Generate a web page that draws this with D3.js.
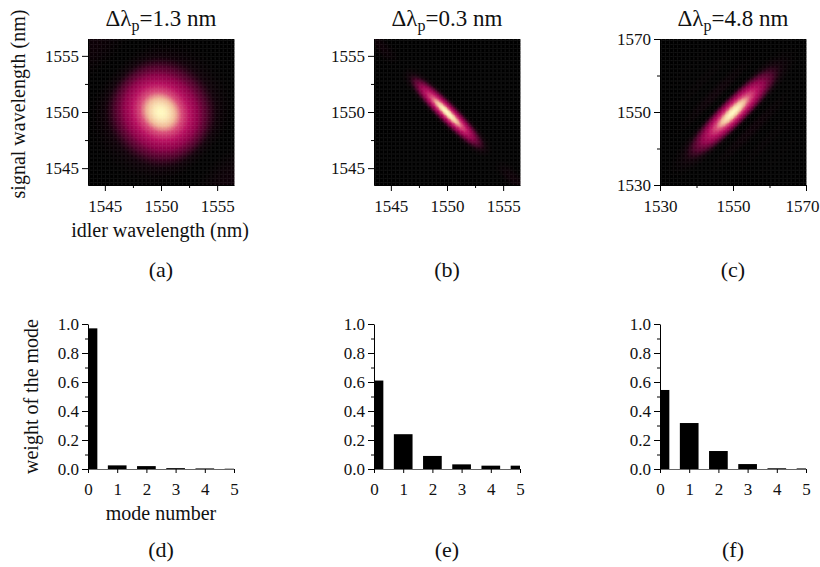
<!DOCTYPE html>
<html>
<head>
<meta charset="UTF-8" />
<title>JSA and Schmidt modes</title>
<script src="https://cdn.jsdelivr.net/npm/d3@7"></script>
<style>
    body { margin: 0; background: #fff; }
    svg { display: block; font-family: 'Liberation Serif', 'DejaVu Serif', serif; }
    text { fill: #111; }
    .tick text { font-size: 17px; }
</style>
</head>
<body>
<div id="chart"></div>
<script>
    // ---- data ----
    var pumpBandwidths = ["1.3", "0.3", "4.8"];          // panel titles (nm)
    var jsaLetters = ["(a)", "(b)", "(c)"];
    var barLetters = ["(d)", "(e)", "(f)"];

    // joint spectrum shape: gaussian pump width along s+i, sinc phase matching along s-i (nm)
    var pumpWidth = [2.0, 0.4, 7.5];
    var matchWidth = [1.9, 1.85, 1.55];
    var jsaDomains = [[1543.5, 1556.5], [1543.5, 1556.5], [1530, 1570]];
    var jsaTicks = [[1545, 1550, 1555], [1545, 1550, 1555], [1530, 1550, 1570]];
    var jsaMinorTicks = [[1547.5, 1552.5], [1547.5, 1552.5], [1540, 1560]];
    var centreWavelength = 1550;

    var modeNumbers = [0, 1, 2, 3, 4, 5];
    var weightsD = [0.97, 0.025, 0.02, 0.006, 0.004, 0.002];
    var weightsE = [0.61, 0.24, 0.09, 0.032, 0.023, 0.023];
    var weightsF = [0.545, 0.317, 0.124, 0.034, 0.005, 0.004];
    var weightTicks = [0, 0.2, 0.4, 0.6, 0.8, 1.0];
    var weightMinorTicks = [0.1, 0.3, 0.5, 0.7, 0.9];

    var colorStops = [0, 0.06, 0.15, 0.3, 0.5, 0.7, 0.85, 1];
    var colorValues = ["#000000", "#12000a", "#4c0029", "#8c0048", "#b81060", "#d84c78", "#f0b898", "#fff8c0"];

    var W = 820, H = 567;
    var panelLeft = [88, 374, 660];
    var size = 146;
    var jsaTop = 39;
    var barTop = 324, barH = 145;

    var svg = d3.select("#chart").append("svg")
        .attr("width", W)
        .attr("height", H);

    var color = d3.scaleLinear().domain(colorStops).range(colorValues).clamp(true);

    function sinc(x) { return x === 0 ? 1 : Math.sin(x) / x; }

    // drop d3's default axis font so the page font applies
    function plain(sel) { sel.attr("font-family", null).attr("font-size", null); }

    var N = 110;

    // ---- top row: joint spectral intensities ----
    jsaDomains.forEach(function(dom, p) {
        var g = svg.append("g").attr("transform", "translate(" + panelLeft[p] + "," + jsaTop + ")");
        var x = d3.scaleLinear().domain(dom).range([0, size]);
        var y = d3.scaleLinear().domain(dom).range([size, 0]);
        var step = (dom[1] - dom[0]) / N;

        var cells = [];
        for (var a = 0; a < N; a++) {
            for (var b = 0; b < N; b++) {
                var li = dom[0] + (a + 0.5) * step;
                var ls = dom[0] + (b + 0.5) * step;
                var u = (li + ls - 2 * centreWavelength) / Math.SQRT2;
                var v = (ls - li) / Math.SQRT2;
                var val = Math.exp(-u * u / (2 * pumpWidth[p] * pumpWidth[p])) *
                    Math.pow(sinc(v / matchWidth[p]), 2);
                cells.push({i: li, s: ls, v: val});
            }
        }

        g.append("g").selectAll("rect")
            .data(cells)
            .enter().append("rect")
            .attr("x", function(d) { return x(d.i - step / 2); })
            .attr("y", function(d) { return y(d.s + step / 2); })
            .attr("width", x(dom[0] + step) - x(dom[0]) + 0.4)
            .attr("height", y(dom[0]) - y(dom[0] + step) + 0.4)
            .attr("fill", function(d) { return color(d.v); });

        var xAxis = d3.axisBottom(x).tickValues(jsaTicks[p]).tickFormat(d3.format("d"))
            .tickSizeInner(6).tickSizeOuter(0).tickPadding(9);
        var yAxis = d3.axisLeft(y).tickValues(jsaTicks[p]).tickFormat(d3.format("d"))
            .tickSizeInner(6).tickSizeOuter(0).tickPadding(3);

        var xg = g.append("g").attr("transform", "translate(0," + size + ")").call(xAxis).call(plain);
        // keep the right-most label inside the page
        xg.selectAll(".tick text").filter(function(d) { return panelLeft[p] + x(d) + 17 > W; })
            .attr("x", -4);
        g.append("g").call(yAxis).call(plain);
        g.append("g").attr("transform", "translate(0," + size + ")")
            .call(d3.axisBottom(x).tickValues(jsaMinorTicks[p]).tickFormat("").tickSize(3).tickSizeOuter(0))
            .select(".domain").remove();
        g.append("g")
            .call(d3.axisLeft(y).tickValues(jsaMinorTicks[p]).tickFormat("").tickSize(3).tickSizeOuter(0))
            .select(".domain").remove();

        // title
        var t = g.append("text")
            .attr("x", size / 2)
            .attr("y", -13)
            .attr("text-anchor", "middle")
            .style("font-size", "23px");
        t.append("tspan").text("\u0394\u03bb");
        t.append("tspan").attr("dy", 5).style("font-size", "16px").text("p");
        t.append("tspan").attr("dy", -5).text("=" + pumpBandwidths[p] + " nm");

        g.append("text")
            .attr("x", size / 2)
            .attr("y", 277 - jsaTop)
            .attr("text-anchor", "middle")
            .style("font-size", "22px")
            .text(jsaLetters[p]);
    });

    svg.append("text")
        .attr("transform", "translate(25," + (jsaTop + size / 2 - 8) + ") rotate(-90)")
        .attr("text-anchor", "middle")
        .style("font-size", "20px")
        .text("signal wavelength (nm)");

    svg.append("text")
        .attr("x", panelLeft[0] + size / 2 - 1)
        .attr("y", 237)
        .attr("text-anchor", "middle")
        .style("font-size", "20px")
        .text("idler wavelength (nm)");

    // ---- bottom row: mode weights ----
    [weightsD, weightsE, weightsF].forEach(function(weights, p) {
        var g = svg.append("g").attr("transform", "translate(" + panelLeft[p] + "," + barTop + ")");
        var x = d3.scaleLinear().domain([0, 5]).range([0, size]);
        var y = d3.scaleLinear().domain([0, 1]).range([barH, 0]);
        var bw = 0.64;

        g.append("defs").append("clipPath").attr("id", "clip" + p)
            .append("rect").attr("x", 0).attr("y", -2).attr("width", size).attr("height", barH + 2);

        g.append("g").attr("clip-path", "url(#clip" + p + ")")
            .selectAll("rect")
            .data(modeNumbers)
            .enter().append("rect")
            .attr("x", function(d) { return x(d - bw / 2); })
            .attr("width", x(bw) - x(0))
            .attr("y", function(d) { return y(weights[d]); })
            .attr("height", function(d) { return y(0) - y(weights[d]); })
            .attr("fill", "#000");

        var xAxis = d3.axisBottom(x).tickValues(modeNumbers).tickFormat(d3.format("d"))
            .tickSizeInner(4).tickSizeOuter(0).tickPadding(10);
        var xg = g.append("g").attr("transform", "translate(0," + barH + ")").call(xAxis).call(plain);
        xg.select(".domain").attr("stroke", "#666");

        g.append("g")
            .call(d3.axisLeft(y).tickValues(weightTicks).tickFormat(d3.format(".1f"))
                .tickSizeInner(6).tickSizeOuter(0).tickPadding(3))
            .call(plain);
        g.append("g")
            .call(d3.axisLeft(y).tickValues(weightMinorTicks).tickFormat("").tickSize(3).tickSizeOuter(0))
            .select(".domain").remove();

        g.append("text")
            .attr("x", size / 2)
            .attr("y", 557 - barTop)
            .attr("text-anchor", "middle")
            .style("font-size", "22px")
            .text(barLetters[p]);
    });

    svg.append("text")
        .attr("transform", "translate(38," + (barTop + barH / 2) + ") rotate(-90)")
        .attr("text-anchor", "middle")
        .style("font-size", "20px")
        .text("weight of the mode");

    svg.append("text")
        .attr("x", panelLeft[0] + size / 2)
        .attr("y", 520)
        .attr("text-anchor", "middle")
        .style("font-size", "20px")
        .text("mode number");
</script>
</body>
</html>
